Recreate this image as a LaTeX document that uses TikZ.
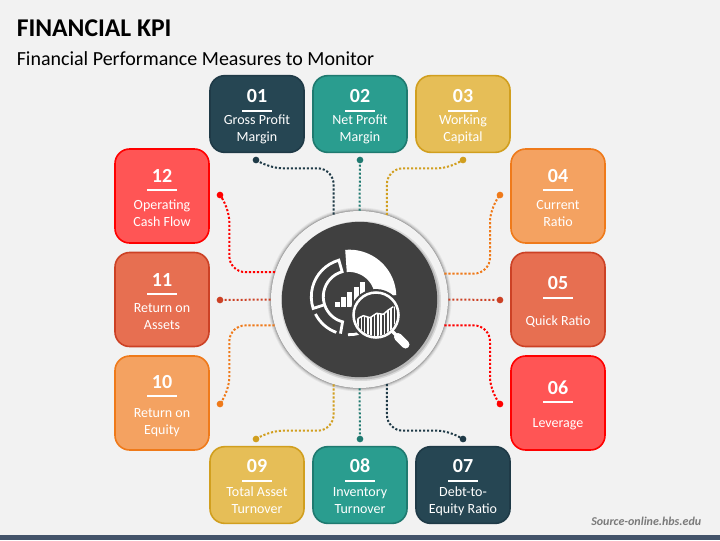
\documentclass[tikz,border=0pt]{standalone}
\usepackage{fontspec}
\setmainfont{Carlito}
\usepackage{tikz}
\usetikzlibrary{arrows}

\definecolor{pagebg}{HTML}{F2F2F2}
\definecolor{navyfill}{HTML}{264653}
\definecolor{navyline}{HTML}{1F3A47}
\definecolor{tealfill}{HTML}{2A9D8F}
\definecolor{tealline}{HTML}{1F7A70}
\definecolor{sandfill}{HTML}{E6BE57}
\definecolor{sandline}{HTML}{D19F1F}
\definecolor{peachfill}{HTML}{F4A261}
\definecolor{peachline}{HTML}{EF7A1A}
\definecolor{rustfill}{HTML}{E76F51}
\definecolor{rustline}{HTML}{CC4125}
\definecolor{redfill}{HTML}{FF5555}
\definecolor{redline}{HTML}{FF0000}
\definecolor{barblue}{HTML}{44546A}
\definecolor{hubdark}{HTML}{404040}

\newcommand{\kpitext}[3][0pt]{{\fontsize{15}{12.75}\selectfont\bfseries\rule{0pt}{16pt}#2}\\[-6pt]\rule{22.5pt}{1.4pt}\\[#1]#3\rule[-4pt]{0pt}{4pt}}

\tikzset{
    kpibox/.style={draw, line width=1.2pt, rounded corners=11pt, minimum width=70.5pt, inner sep=0pt,
        text=white, align=center, font=\fontsize{10.5}{12.75}\selectfont},
    tallbox/.style={kpibox, minimum height=70.5pt},
    flatbox/.style={kpibox, minimum height=57.5pt},
    enddot/.style={circle, inner sep=0pt, minimum size=5pt},
    link/.style={line width=1.5pt, dash pattern=on 1.6pt off 1.4pt, rounded corners=12pt},
    iconline/.style={white, line width=2.1pt}
}

\begin{document}
\begin{tikzpicture}[x=0.75pt,y=-0.75pt]
\fill[pagebg] (0,0) rectangle (720,540);
\useasboundingbox (0,0) rectangle (720,540);
\fill[barblue] (0,534.7) rectangle (720,540);

\node[anchor=base west, inner sep=0pt, font=\fontsize{19.2}{22}\selectfont\bfseries] (title) at (16.5,36.7) {FINANCIAL KPI};
\node[anchor=base west, inner sep=0pt, font=\fontsize{15}{18}\selectfont] (subtitle) at (16.5,65.5) {Financial Performance Measures to Monitor};
\node[anchor=base east, inner sep=0pt, text=black!52, font=\fontsize{9}{10}\selectfont\bfseries\itshape] (source) at (701.5,525) {Source-online.hbs.edu};

% soft edge of the hub
\fill[black,opacity=.05] (359.5,299.5) circle (92);
\fill[black,opacity=.08] (359.5,299.5) circle (91);
\fill[black,opacity=.12] (359.5,299.5) circle (90);
\fill[black,opacity=.2] (359.5,299.5) circle (89);

\node[circle, fill=pagebg, inner sep=0pt, minimum size=132.75pt] (hub) at (359.5,299.5) {};

\fill[black,opacity=.1] (361,301) circle (80);
\fill[black,opacity=.15] (361,301) circle (78.5);
\node[circle, fill=hubdark, inner sep=0pt, minimum size=116.5pt] (disc) at (359.5,299.5) {};

% boxes
\node[flatbox, fill=navyfill, draw=navyline] (b1) at (257,114) {\kpitext[-3pt]{01}{Gross Profit\\Margin}};
\node[flatbox, fill=tealfill, draw=tealline] (b2) at (360,114) {\kpitext[-3pt]{02}{Net Profit\\Margin}};
\node[flatbox, fill=sandfill, draw=sandline] (b3) at (463,114) {\kpitext[-3pt]{03}{Working\\Capital}};
\node[tallbox, fill=peachfill, draw=peachline] (b4) at (558,196) {\kpitext[.75pt]{04}{Current\\Ratio}};
\node[tallbox, fill=rustfill, draw=rustline] (b5) at (558,299.5) {\kpitext[7pt]{05}{Quick Ratio}};
\node[tallbox, fill=redfill, draw=redline] (b6) at (558,403) {\kpitext[5.5pt]{06}{Leverage}};
\node[flatbox, fill=navyfill, draw=navyline] (b7) at (463,485) {\kpitext[-1.5pt]{07}{Debt-to-\\Equity Ratio}};
\node[flatbox, fill=tealfill, draw=tealline] (b8) at (360,485) {\kpitext[-1.5pt]{08}{Inventory\\Turnover}};
\node[flatbox, fill=sandfill, draw=sandline] (b9) at (257,485) {\kpitext[-1.5pt]{09}{Total Asset\\Turnover}};
\node[tallbox, fill=peachfill, draw=peachline] (b10) at (162,403) {\kpitext[2.25pt]{10}{Return on\\Equity}};
\node[tallbox, fill=rustfill, draw=rustline] (b11) at (162,299.5) {\kpitext[0pt]{11}{Return on\\Assets}};
\node[tallbox, fill=redfill, draw=redline] (b12) at (162,196) {\kpitext[.75pt]{12}{Operating\\Cash Flow}};

% end dots
\node[enddot, fill=navyline] (d1) at (256,160) {};
\node[enddot, fill=tealline] (d2) at (360,160) {};
\node[enddot, fill=sandline] (d3) at (463,160) {};
\node[enddot, fill=peachline] (d4) at (500,195) {};
\node[enddot, fill=rustline] (d5) at (500,300) {};
\node[enddot, fill=redline] (d6) at (500,404) {};
\node[enddot, fill=navyline] (d7) at (463,439) {};
\node[enddot, fill=tealline] (d8) at (360,439) {};
\node[enddot, fill=sandline] (d9) at (256,439) {};
\node[enddot, fill=peachline] (d10) at (220,404) {};
\node[enddot, fill=rustline] (d11) at (220,300) {};
\node[enddot, fill=redline] (d12) at (220,195) {};

% connectors
\draw[link, draw=navyline] (hub.107.8) |- (266.7,168.3) -- (d1);
\draw[link, draw=tealline] (hub.90) -- (d2);
\draw[link, draw=sandline] (hub.72.2) |- (453,168.3) -- (d3);
\draw[link, draw=peachline] (hub.17.8) -| (490,206) -- (d4);
\draw[link, draw=rustline] (hub.0) -- (d5);
\draw[link, draw=redline] (hub.-17.8) -| (490,393) -- (d6);
\draw[link, draw=navyline] (hub.-72.2) |- (453,430.7) -- (d7);
\draw[link, draw=tealline] (hub.-90) -- (d8);
\draw[link, draw=sandline] (hub.-107.8) |- (266.7,430.7) -- (d9);
\draw[link, draw=peachline] (hub.197.8) -| (229.3,393) -- (d10);
\draw[link, draw=rustline] (hub.180) -- (d11);
\draw[link, draw=redline] (hub.162.2) -| (229.3,206) -- (d12);

% icon: donut pieces
\fill[white] (349.3,296.7) ++(-95:47) arc[start angle=-95, end angle=-2, radius=47]
    -- (375,297) arc[start angle=-2, end angle=-95, radius=26] -- cycle;
\draw[iconline] (349.3,296.7) ++(-106:38) arc[start angle=-106, end angle=-198, radius=38]
    -- ++(-18:12) arc[start angle=-198, end angle=-106, radius=26] -- cycle;
\draw[iconline] (349.3,296.7) ++(153:38) arc[start angle=153, end angle=110, radius=38];
\draw[iconline] (349.3,296.7) ++(160:26) arc[start angle=160, end angle=105, radius=26] -- ++(100:12);
\draw[iconline] (349.3,296.7) ++(92:38) arc[start angle=92, end angle=75, radius=38];

% icon: bars
\fill[white] (335,302.3) rectangle (340,306.7);
\fill[white] (341,296.7) rectangle (346,306.7);
\fill[white] (347.3,292.3) rectangle (352.3,306.7);
\fill[white] (353.7,286.7) rectangle (358.7,306.7);
\fill[white] (360,281.7) rectangle (364.7,306.7);

% icon: lens
\fill[hubdark] (376,315) circle (26);
\begin{scope}
\clip (376,315) circle (21);
\clip (355,318.3) -- (358.3,318.3) -- (363.3,315.7) -- (370,317.7) -- (376.7,313.3) -- (383.3,314.3) -- (388.3,310) -- (393.3,306.7) -- (398,306) -- (398,340) -- (355,340) -- cycle;
\foreach \xpos in {358,361.3,...,396}
    \draw[white, line width=1.2pt] (\xpos,300) -- (\xpos,340);
\end{scope}
\draw[white, line width=1.1pt] (358.3,318.3) -- (363.3,315.7) -- (370,317.7) -- (376.7,313.3) -- (383.3,314.3) -- (388.3,310) -- (393.3,306.7);
\draw[white, line width=1.9pt] (376,315) circle (22.5);
\draw[white, line width=2.4pt] (392,331) -- (397,336);
\draw[white, line width=6pt, line cap=round] (398,337) -- (405.5,344.5);
\end{tikzpicture}
\end{document}
